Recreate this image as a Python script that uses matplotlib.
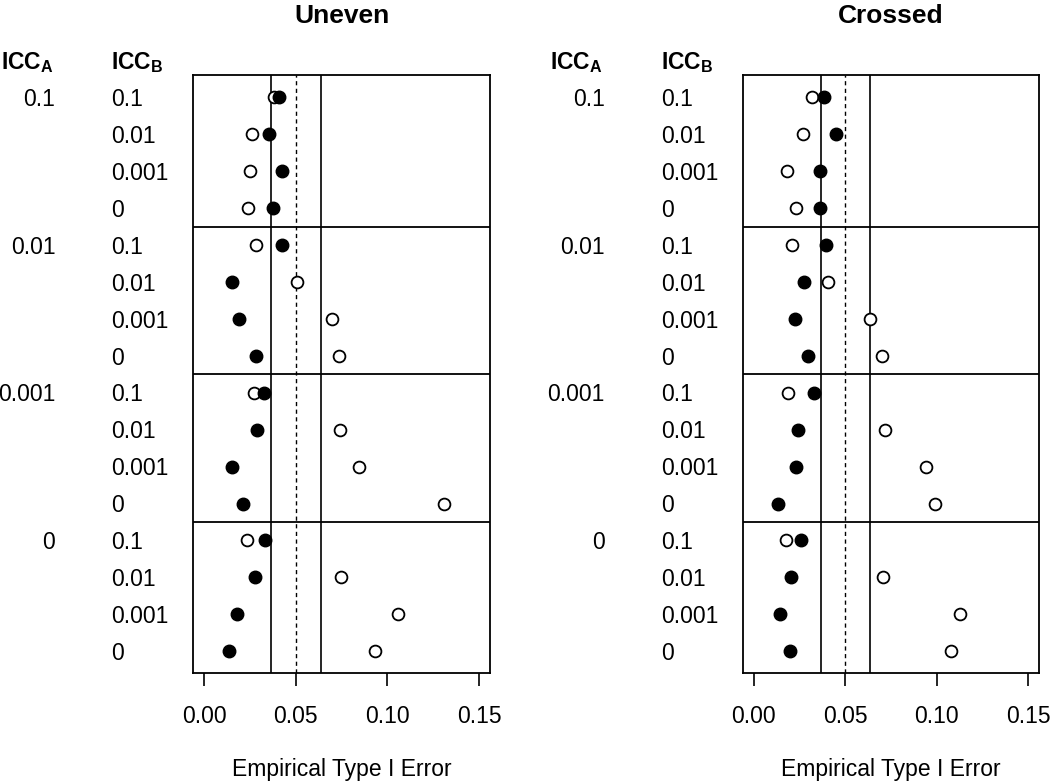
"""
Empirical Type I error by ICC_A / ICC_B for the uneven and crossed designs.
"""

import matplotlib
matplotlib.use("Agg")
import matplotlib.pyplot as plt
import numpy as np

plt.rcParams["font.family"] = "Liberation Sans"
plt.rcParams["mathtext.fontset"] = "custom"
plt.rcParams["mathtext.rm"] = "Liberation Sans"
plt.rcParams["mathtext.bf"] = "Liberation Sans:bold"

icc_levels = ["0.1", "0.01", "0.001", "0"]

# rows run ICC_A (outer) x ICC_B (inner), top to bottom
uneven_open = [0.0381, 0.0262, 0.0249, 0.0240,
               0.0280, 0.0508, 0.0697, 0.0733,
               0.0271, 0.0739, 0.0846, 0.1308,
               0.0233, 0.0748, 0.1056, 0.0930]
uneven_filled = [0.0409, 0.0353, 0.0422, 0.0373,
                 0.0422, 0.0153, 0.0188, 0.0280,
                 0.0324, 0.0289, 0.0149, 0.0213,
                 0.0333, 0.0277, 0.0180, 0.0137]
crossed_open = [0.0318, 0.0269, 0.0180, 0.0231,
                0.0209, 0.0406, 0.0637, 0.0700,
                0.0189, 0.0717, 0.0941, 0.0988,
                0.0178, 0.0706, 0.1126, 0.1077]
crossed_filled = [0.0384, 0.0449, 0.0360, 0.0362,
                  0.0397, 0.0273, 0.0226, 0.0298,
                  0.0331, 0.0244, 0.0229, 0.0135,
                  0.0260, 0.0204, 0.0146, 0.0197]

nominal = 0.05
lower, upper = 0.0365, 0.0635

panels = [("Uneven", uneven_open, uneven_filled),
          ("Crossed", crossed_open, crossed_filled)]

fig = plt.figure(figsize=(10.5, 7.83), dpi=100)
lefts = [0.1841, 0.7073]
rows = np.arange(1, 17)

for left, (title, open_vals, filled_vals) in zip(lefts, panels):
    ax = fig.add_axes([left, 0.1401, 0.2826, 0.7637])
    ax.set_xlim(-0.006, 0.156)
    ax.set_ylim(16.6, 0.4)

    ax.axvline(lower, color="black", lw=1.2)
    ax.axvline(upper, color="black", lw=1.2)
    ax.axvline(nominal, color="black", lw=1.0, linestyle=(0, (3, 2.5)))
    for y in [4.5, 8.5, 12.5]:
        ax.axhline(y, color="black", lw=1.3)

    ax.plot(open_vals, rows, "o", ms=8.5, mfc="white", mec="black", mew=1.3)
    ax.plot(filled_vals, rows, "o", ms=9, mfc="black", mec="black")

    for s in ax.spines.values():
        s.set_linewidth(1.3)
    ax.set_yticks([])
    ax.set_xticks([0, 0.05, 0.10, 0.15])
    ax.set_xticklabels(["0.00", "0.05", "0.10", "0.15"])
    ax.tick_params(axis="x", length=9.5, width=1.2, pad=13, labelsize=16.5)

    ax.text(0.5, 1.1, title, transform=ax.transAxes, ha="center",
            va="center", fontsize=19, fontweight="bold")
    ax.text(0.5, -0.161, "Empirical Type I Error", transform=ax.transAxes,
            ha="center", va="center", fontsize=16.5)

    trans = ax.get_yaxis_transform()
    ax.text(-0.47, 0.06, r"$\mathbf{ICC}_{\mathbf{A}}$", transform=trans,
            ha="right", va="center", fontsize=16.5, clip_on=False)
    ax.text(-0.276, 0.06, r"$\mathbf{ICC}_{\mathbf{B}}$", transform=trans,
            ha="left", va="center", fontsize=16.5, clip_on=False)
    for i in range(16):
        if i % 4 == 0:
            ax.text(-0.465, i + 1.06, icc_levels[i // 4], transform=trans,
                    ha="right", va="center", fontsize=16.5)
        ax.text(-0.276, i + 1.06, icc_levels[i % 4], transform=trans,
                ha="left", va="center", fontsize=16.5)

fig.savefig("out.png", dpi=100)
